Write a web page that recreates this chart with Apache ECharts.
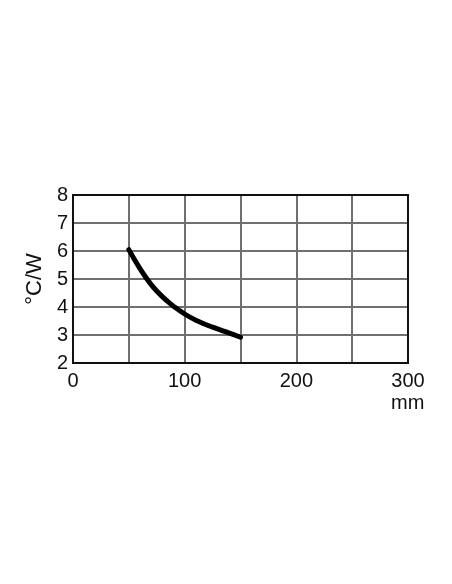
<!DOCTYPE html>
<html><head><meta charset="utf-8">
<script src="https://cdn.jsdelivr.net/npm/echarts@6/dist/echarts.min.js"></script>
<style>html,body{margin:0;padding:0;background:#fff}#c{width:452px;height:584px}</style>
</head><body><div id="c"></div>
<script>
const lengthsMm = [50, 55, 60, 65, 70, 75, 80, 85, 90, 100, 110, 125, 140, 150];
const thermalResistance = [6.05, 5.70, 5.37, 5.07, 4.80, 4.57, 4.37, 4.19, 4.03, 3.75, 3.53, 3.28, 3.07, 2.92];
const xTickLabels = [0, 100, 200, 300];
const yTickLabels = [2, 3, 4, 5, 6, 7, 8];

const chart = echarts.init(document.getElementById('c'), null, {renderer: 'canvas'});
const font = 'Liberation Sans, Arial, Helvetica, sans-serif';
chart.setOption({
  backgroundColor: '#fff',
  animation: false,
  grid: {left: 73, right: 44, top: 195, bottom: 221, show: true, borderColor: '#111', borderWidth: 2, backgroundColor: 'transparent', z: 5},
  xAxis: {
    type: 'value', min: 0, max: 300, interval: 50,
    axisLine: {show: false}, axisTick: {show: false},
    splitLine: {show: true, showMinLine: false, showMaxLine: false, lineStyle: {color: '#707070', width: 2}},
    axisLabel: {
      color: '#111', fontSize: 20, fontFamily: font, margin: 8,
      formatter: v => xTickLabels.includes(v) ? String(v) : ''
    }
  },
  yAxis: {
    type: 'value', min: 2, max: 8, interval: 1,
    name: '°C/W', nameLocation: 'middle', nameRotate: 90, nameGap: 27,
    nameTextStyle: {color: '#111', fontSize: 22, fontFamily: font},
    axisLine: {show: false}, axisTick: {show: false},
    splitLine: {show: true, showMinLine: false, showMaxLine: false, lineStyle: {color: '#707070', width: 2}},
    axisLabel: {
      color: '#111', fontSize: 20, fontFamily: font, margin: 5,
      formatter: v => yTickLabels.includes(v) ? String(v) : ''
    }
  },
  graphic: [{
    type: 'text', left: 391, top: 393,
    style: {text: 'mm', fill: '#111', fontSize: 20, fontFamily: font}
  }],
  series: [{
    type: 'line', smooth: 0.4, symbol: 'none',
    data: lengthsMm.map((x, i) => [x, thermalResistance[i]]),
    lineStyle: {color: '#000', width: 5, cap: 'round'}
  }]
});
</script></body></html>
